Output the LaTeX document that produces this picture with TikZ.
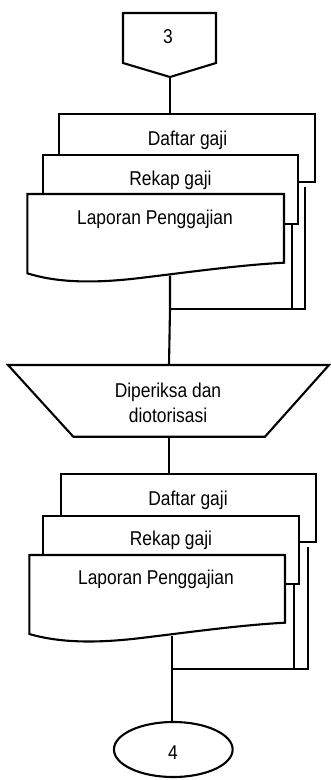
\documentclass[tikz,border=0pt]{standalone}
\usepackage{fontspec}
\setmainfont[FakeStretch=0.87]{Liberation Sans}
\usetikzlibrary{shapes.geometric}
\tikzset{
  ln/.style={line width=2.1pt, line join=miter},
  sheet/.style={ln, draw=black, fill=white, rectangle, inner sep=0pt},
  lbl/.style={inner sep=0pt, font=\fontsize{20}{25}\selectfont, align=center},
  term/.style={ln, draw=black, fill=white, ellipse, inner sep=0pt}
}
\begin{document}
\begin{tikzpicture}[x=1pt, y=-1pt]
\useasboundingbox (0,0) rectangle (331,780);

% off-page connector "3"
\draw[ln] (123,13) -- (216,13) -- (216,63) -- (170,77) -- (123,63) -- cycle;
\coordinate (p3) at (170,77);
\node[lbl] (t3) at (168,37) {3};

% ---- first stack of documents ----
\node[sheet, minimum width=255.7pt, minimum height=68.3pt] (d1) at (187.15,148.15) {};
\node[sheet, minimum width=255.6pt, minimum height=69pt] (r1) at (170.5,189.5) {};
\draw[ln, fill=white] (27.3,194) -- (284,194) -- (284,262.7)
  .. controls (240,265) and (190,272) .. (140,278)
  .. controls (90,284) and (55,282) .. (27.3,273.3) -- cycle;
\coordinate (l1) at (170,275.5);
\node[lbl] (td1) at (187.5,140) {Daftar gaji};
\node[lbl] (tr1) at (170.5,180) {Rekap gaji};
\node[lbl] (tl1) at (155,219) {Laporan Penggajian};

\coordinate (m1) at (170,309);
\coordinate (a1) at (291.7,309);
\coordinate (b1) at (305,309);
\coordinate (bt1) at (305,186.7);

% decision trapezium
\draw[ln] (8,365) -- (329,365) -- (265,436.7) -- (73.3,436.7) -- cycle;
\coordinate (ztop) at (169,365);
\coordinate (zbot) at (169,436.7);
\node[lbl] (tz) at (168,402.5) {Diperiksa dan\\diotorisasi};

% ---- second stack of documents ----
\node[sheet, minimum width=255.3pt, minimum height=68.3pt] (d2) at (188.35,508.15) {};
\node[sheet, minimum width=256pt, minimum height=68pt] (r2) at (171.3,550) {};
\draw[ln, fill=white] (29.3,555) -- (285,555) -- (285,622.7)
  .. controls (241,625) and (191,632) .. (141,638)
  .. controls (91,644) and (57,642) .. (29.3,634) -- cycle;
\coordinate (l2) at (172,636);
\node[lbl] (td2) at (188,500) {Daftar gaji};
\node[lbl] (tr2) at (171,540) {Rekap gaji};
\node[lbl] (tl2) at (156,579) {Laporan Penggajian};

\coordinate (m2) at (172,669.3);
\coordinate (a2) at (294.3,669.3);
\coordinate (b2) at (307.7,669.3);
\coordinate (bt2) at (307.7,546.7);

% terminator "4"
\node[term, minimum width=118.7pt, minimum height=55pt] (e4) at (173.3,749.5) {};
\node[lbl] (t4) at (173,753) {4};

% connectors
\draw[ln] (p3) -- (d1.north -| p3);
\draw[ln] (l1) -- (m1) -- (ztop);
\draw[ln] (m1) -- (b1) -- (bt1);
\draw[ln] (r1.south -| a1) -- (a1);
\draw[ln] (zbot) -- (d2.north -| zbot);
\draw[ln] (l2) -- (m2) -- (e4.north -| m2);
\draw[ln] (m2) -- (b2) -- (bt2);
\draw[ln] (r2.south -| a2) -- (a2);
\end{tikzpicture}
\end{document}
